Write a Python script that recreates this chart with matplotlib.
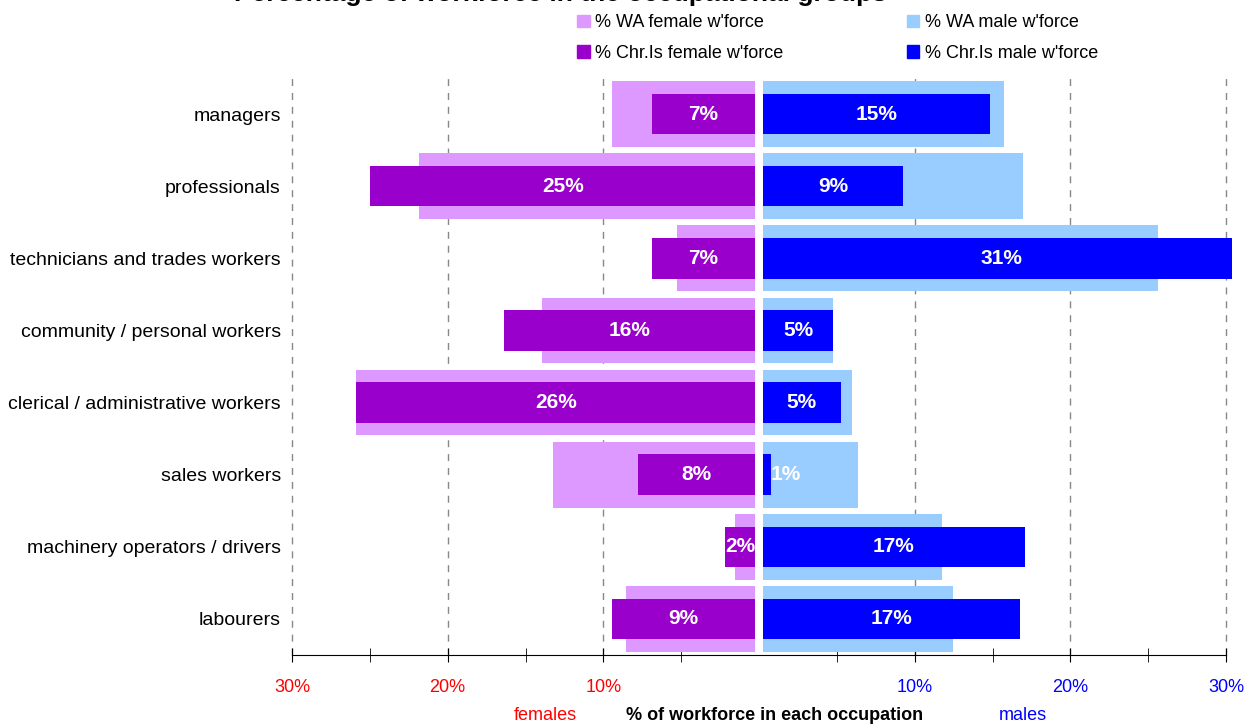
import matplotlib
matplotlib.use("Agg")
import matplotlib.pyplot as plt
from matplotlib.patches import Patch
from matplotlib.transforms import Bbox, TransformedBbox

plt.rcParams['font.family'] = ['Liberation Sans', 'DejaVu Sans']

categories = ["managers", "professionals", "technicians and trades workers",
              "community / personal workers", "clerical / administrative workers",
              "sales workers", "machinery operators / drivers", "labourers"]
wa_female = [9.2, 21.6, 5.0, 13.7, 25.6, 13.0, 1.3, 8.3]
chr_female = [6.6, 24.7, 6.6, 16.1, 25.6, 7.5, 1.9, 9.2]
wa_male = [15.5, 16.7, 25.4, 4.5, 5.7, 6.1, 11.5, 12.2]
chr_male = [14.6, 9.0, 30.6, 4.5, 5.0, 0.5, 16.8, 16.5]
tick_values = [-30, -20, -10, 10, 20, 30]
tick_labels = ["30%", "20%", "10%", "10%", "20%", "30%"]
legend_labels = ["% WA female w'force", "% Chr.Is female w'force",
                 "% WA male w'force", "% Chr.Is male w'force"]
title_text = "Percentage of workforce in the occupational groups"

c_wa_f = "#DD99FF"
c_chr_f = "#9900CC"
c_wa_m = "#99CCFF"
c_chr_m = "#0000FF"

fig = plt.figure(figsize=(12.52, 7.27), dpi=100)
ax = fig.add_axes([292/1252, 1-655/727, (1226-292)/1252, (655-78)/727])

gap = 0.26
y = list(range(len(categories)))

for xv in tick_values:
    ax.axvline(xv, color="#888888", lw=1, ls=(0, (5, 5)), zorder=0, clip_on=False)

ax.barh(y, [-v for v in wa_female], left=-gap, height=0.91, color=c_wa_f, zorder=2)
ax.barh(y, [-v for v in chr_female], left=-gap, height=0.56, color=c_chr_f, zorder=3)
ax.barh(y, wa_male, left=gap, height=0.91, color=c_wa_m, zorder=2)
bm = ax.barh(y, chr_male, left=gap, height=0.56, color=c_chr_m, zorder=3)
clipbox = TransformedBbox(Bbox([[0, -0.05], [1.0065, 1.05]]), ax.transAxes)
for b in bm:
    b.set_clip_box(clipbox)

for i, v in enumerate(chr_female):
    ax.text(-gap - v/2, i, f"{int(v + 0.5)}%", ha="center", va="center",
            color="white", fontsize=15, fontweight="bold", zorder=5)
for i, v in enumerate(chr_male):
    if v < 1:
        ax.text(gap + v, i, f"{int(v + 0.5)}%", ha="left", va="center",
                color="white", fontsize=15, fontweight="bold", zorder=5)
    else:
        ax.text(gap + v/2, i, f"{int(v + 0.5)}%", ha="center", va="center",
                color="white", fontsize=15, fontweight="bold", zorder=5)

ax.set_xlim(-30, 30)
ax.set_ylim(len(categories) - 0.5, -0.5)
ax.set_yticks(y)
ax.set_yticklabels(categories, fontsize=14)
ax.tick_params(axis="y", length=0, pad=8)

ax.set_xticks(tick_values)
ax.set_xticklabels(tick_labels, fontsize=13)
ax.set_xticks([-25, -15, -5, 5, 15, 25], minor=True)
ax.tick_params(axis="x", which="major", direction="inout", length=10, pad=12)
ax.tick_params(axis="x", which="minor", direction="inout", length=10)
for lbl, xv in zip(ax.get_xticklabels(), tick_values):
    lbl.set_color("#FF0000" if xv < 0 else "#0000FF")

for s in ["top", "right", "left"]:
    ax.spines[s].set_visible(False)
ax.spines["bottom"].set_color("black")

fig.text(545/1252, 1-716/727, "females", color="#FF0000", fontsize=13,
         ha="center", va="center")
fig.text(775/1252, 1-716/727, "% of workforce in each occupation", color="black",
         fontsize=13, fontweight="bold", ha="center", va="center")
fig.text(1023/1252, 1-716/727, "males", color="#0000FF", fontsize=13,
         ha="center", va="center")

handles = [Patch(color=c_wa_f), Patch(color=c_chr_f), Patch(color=c_wa_m), Patch(color=c_chr_m)]
fig.legend(handles, legend_labels, ncol=2, loc="upper left",
           bbox_to_anchor=(572/1252, 1 - 9/727), frameon=False, fontsize=13,
           handlelength=0.7, handleheight=0.7, handletextpad=0.3,
           labelspacing=0.75, columnspacing=6.8, borderaxespad=0, borderpad=0.3)

fig.text(560/1252, 1 - 1.5/727, title_text, fontsize=19, fontweight="bold",
         ha="center", va="baseline")

fig.savefig("out.png", dpi=100)
